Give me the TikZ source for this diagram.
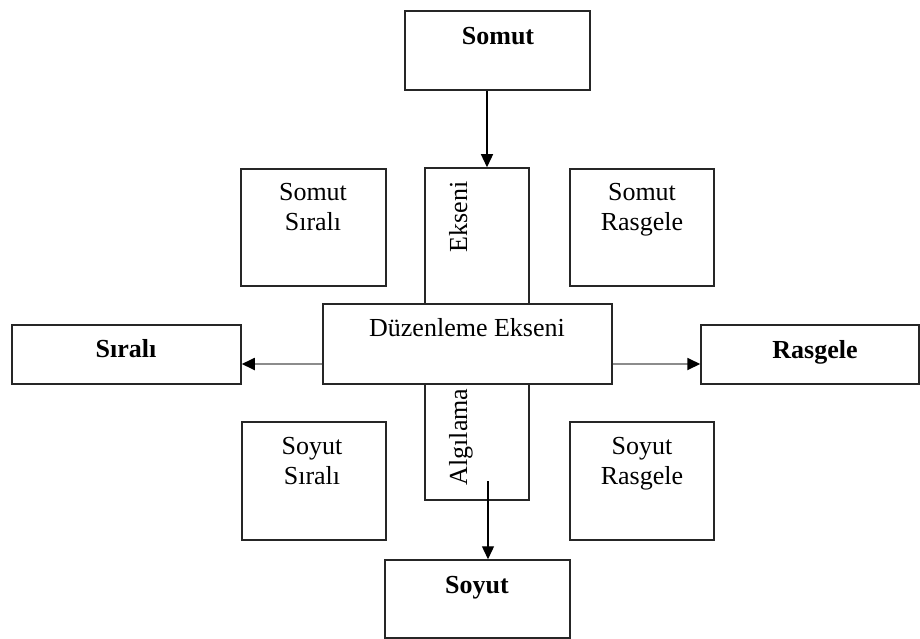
\documentclass[tikz,border=0pt]{standalone}
\usepackage{fontspec}
\setmainfont{Liberation Serif}
\usetikzlibrary{arrows.meta}
\begin{document}
\begin{tikzpicture}[x=1pt,y=-1pt,
  box/.style={draw=black!85,line width=1.5pt,fill=white,inner sep=0pt},
  lbl/.style={font=\fontsize{26}{30}\selectfont,inner sep=0pt,anchor=base,align=center},
  arr/.style={line width=1.3pt,-{Triangle[length=13pt,width=12pt]}},
  garr/.style={draw=black!45,line width=1.8pt,-{Triangle[black,length=13pt,width=12pt]}}]

  \useasboundingbox (0,0) rectangle (920,639);

  \node[box,minimum width=185pt,minimum height=79pt] (somut) at (497.5,50.5) {};
  \node[box,minimum width=104pt,minimum height=332pt] (algi) at (477,334) {};
  \node[box,minimum width=145pt,minimum height=117pt] (ssirali) at (313.5,227.5) {};
  \node[box,minimum width=144pt,minimum height=117pt] (srasgele) at (642,227.5) {};
  \node[box,minimum width=289pt,minimum height=80pt] (duzen) at (467.5,344) {};
  \node[box,minimum width=229pt,minimum height=59pt] (sirali) at (126.5,354.5) {};
  \node[box,minimum width=218pt,minimum height=59pt] (rasgele) at (810,354.5) {};
  \node[box,minimum width=144pt,minimum height=118pt] (yssirali) at (314,481) {};
  \node[box,minimum width=144pt,minimum height=118pt] (ysrasgele) at (642,481) {};
  \node[box,minimum width=185pt,minimum height=78pt] (soyut) at (477.5,599) {};

  \node[lbl] (somutT) at (498,45) {\textbf{Somut}};
  \node[lbl] (ssiraliT) at (313,230) {Somut\\Sıralı};
  \node[lbl] (srasgeleT) at (642,230) {Somut\\Rasgele};
  \node[lbl,rotate=90] (eksT) at (467,217) {Ekseni};
  \node[lbl] (duzenT) at (467,336) {Düzenleme Ekseni};
  \node[lbl] (siraliT) at (126,357) {\textbf{Sıralı}};
  \node[lbl] (rasgeleT) at (815,358) {\textbf{Rasgele}};
  \node[lbl,rotate=90] (algT) at (467,437) {Algılama};
  \node[lbl] (yssiraliT) at (312,484) {Soyut\\Sıralı};
  \node[lbl] (ysrasgeleT) at (642,484) {Soyut\\Rasgele};
  \node[lbl] (soyutT) at (477,593) {\textbf{Soyut}};

  \coordinate (ax) at (487,0);
  \coordinate (astart) at (488,481);
  \coordinate (hy) at (0,364);

  \draw[arr] (ax |- somut.south) -- (ax |- algi.north);
  \draw[arr] (astart) -- (astart |- soyut.north);
  \draw[garr] (duzen.west |- hy) -- (sirali.east |- hy);
  \draw[garr] (duzen.east |- hy) -- (rasgele.west |- hy);
\end{tikzpicture}
\end{document}
